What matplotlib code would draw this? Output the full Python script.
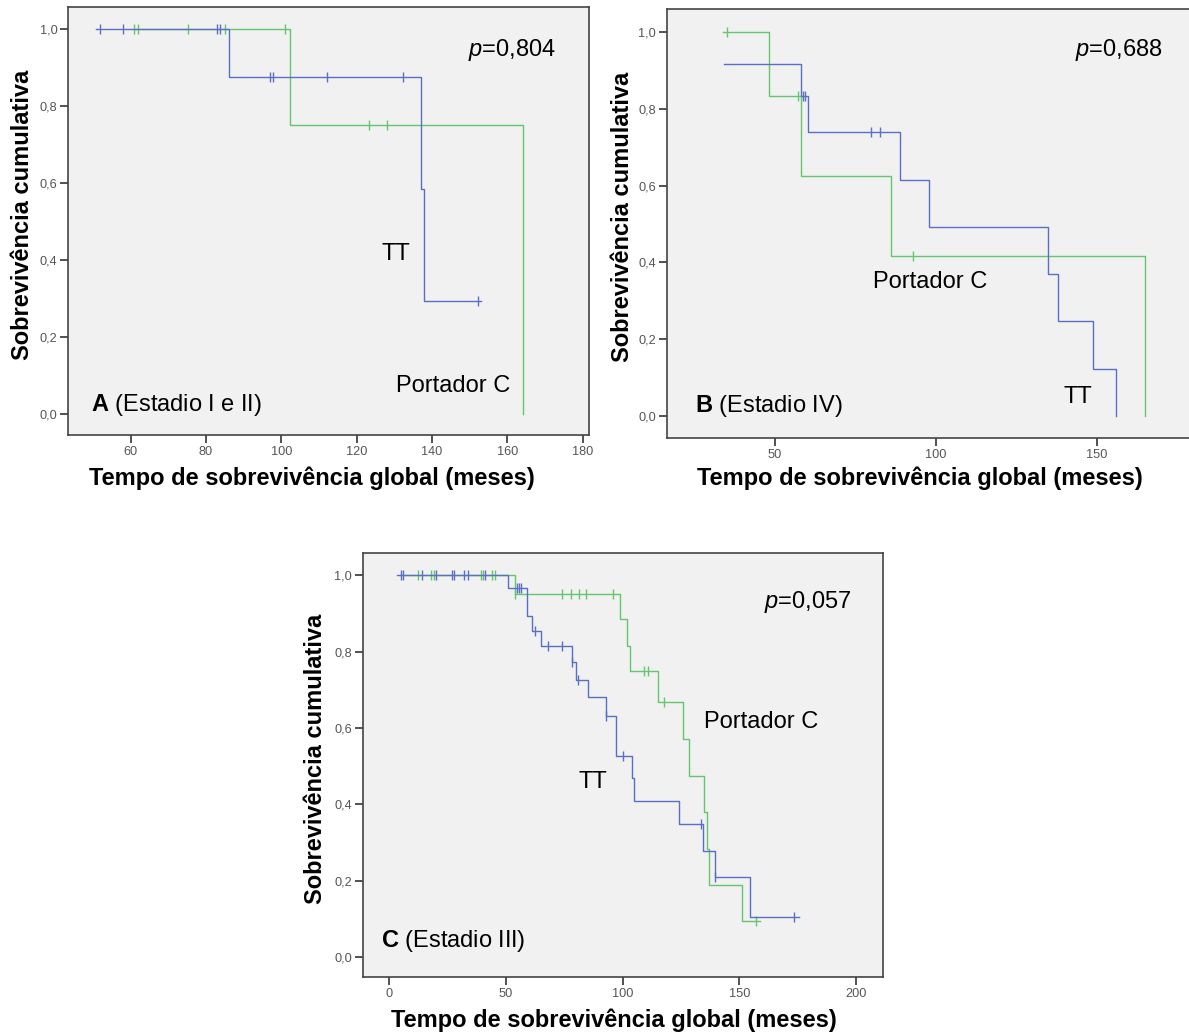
import numpy as np
import matplotlib
matplotlib.use('Agg')
import matplotlib.pyplot as plt
from matplotlib.ticker import FuncFormatter

# fontes (Arial -> Liberation Sans)
plt.rcParams['font.family'] = ['Liberation Sans', 'DejaVu Sans']
plt.rcParams['mathtext.fontset'] = 'custom'
plt.rcParams['mathtext.rm'] = 'Liberation Sans'
plt.rcParams['mathtext.it'] = 'Liberation Sans:italic'
plt.rcParams['mathtext.bf'] = 'Liberation Sans:bold'

# ---- dados: painel A (Estadio I e II) ----
a_tt_t = [50.9, 86.1, 137.0, 138.0, 153.0]
a_tt_s = [1.0, 0.875, 0.583, 0.292, 0.292]
a_tt_ct = [52.0, 58.1, 82.9, 83.8, 97.0, 97.9, 112.2, 132.2, 152.1]
a_tt_cs = [1.0, 1.0, 1.0, 1.0, 0.875, 0.875, 0.875, 0.875, 0.292]
a_c_t = [61.0, 102.3, 164.1]
a_c_s = [1.0, 0.75, 0.0]
a_c_ct = [61.0, 62.0, 75.2, 85.1, 101.1, 123.2, 128.1]
a_c_cs = [1.0, 1.0, 1.0, 1.0, 1.0, 0.75, 0.75]

# ---- painel B (Estadio IV) ----
b_tt_t = [34.1, 58.1, 60.2, 88.9, 98.0, 134.9, 137.8, 148.7, 155.9]
b_tt_s = [0.917, 0.833, 0.739, 0.616, 0.493, 0.370, 0.247, 0.123, 0.0]
b_tt_ct = [58.7, 59.4, 79.9, 82.7]
b_tt_cs = [0.833, 0.833, 0.739, 0.739]
b_c_t = [33.8, 48.1, 58.1, 86.1, 164.9]
b_c_s = [1.0, 0.833, 0.625, 0.417, 0.0]
b_c_ct = [35.1, 57.3, 92.9]
b_c_cs = [1.0, 0.833, 0.417]

# ---- painel C (Estadio III) ----
c_tt_t = [3.1, 50.9, 59.2, 61.2, 65.2, 78.2, 79.8, 85.0, 92.8, 97.0, 103.8,
          105.0, 124.3, 134.2, 139.4, 154.4, 175.4]
c_tt_s = [1.0, 0.967, 0.892, 0.854, 0.816, 0.774, 0.727, 0.680, 0.631, 0.526,
          0.468, 0.410, 0.349, 0.279, 0.209, 0.105, 0.105]
c_tt_ct = [5.0, 5.9, 14.1, 19.8, 26.9, 27.9, 31.8, 33.8, 40.8, 54.8, 55.6, 56.4,
           62.6, 67.9, 74.0, 78.4, 80.9, 92.8, 100.2, 133.6, 139.4, 173.4]
c_tt_cs = [1.0] * 9 + [0.967] * 3 + [0.854, 0.816, 0.816, 0.774, 0.727, 0.631,
                                     0.526, 0.349, 0.209, 0.105]
c_c_t = [5.0, 53.7, 98.9, 102.0, 103.0, 114.9, 125.8, 128.2, 135.0, 136.2,
         136.9, 151.0, 158.9]
c_c_s = [1.0, 0.952, 0.885, 0.816, 0.748, 0.667, 0.571, 0.475, 0.380, 0.284,
         0.190, 0.095, 0.095]
c_c_ct = [12.2, 17.8, 19.0, 39.2, 40.2, 44.0, 45.2, 53.9, 74.0, 78.0, 81.1,
          84.1, 96.0, 109.3, 111.0, 117.8, 156.9]
c_c_cs = [1.0] * 7 + [0.952] * 6 + [0.748, 0.748, 0.667, 0.095]

y_ticks = [0.0, 0.2, 0.4, 0.6, 0.8, 1.0]
a_xticks = [60, 80, 100, 120, 140, 160, 180]
b_xticks = [50, 100, 150]
c_xticks = [0, 50, 100, 150, 200]

azul = '#5b6fc4'
verde = '#66c66f'
fundo = '#f0f1f0'
xlab = 'Tempo de sobrevivência global (meses)'
ylab = 'Sobrevivência cumulativa'

fig = plt.figure(figsize=(11.89, 10.34), dpi=100)
axA = fig.add_axes([0.0575, 0.5793, 0.4376, 0.4139])
axB = fig.add_axes([0.561, 0.5764, 0.439, 0.4149])
axC = fig.add_axes([0.3056, 0.0551, 0.4367, 0.4100])


def km(ax, t, s, ct, cs, cor):
    ax.step(t, s, where='post', color=cor, lw=1.0)
    ax.plot(ct, cs, ls='none', marker='|', ms=7, mew=1.0, color=cor)


def estilo(ax, xt, xlim, ylim, lx, ly):
    ax.set_facecolor(fundo)
    ax.set_xlim(*xlim)
    ax.set_ylim(*ylim)
    ax.set_xticks(xt)
    ax.set_yticks(y_ticks)
    fmt = FuncFormatter(lambda v, p: ('%.1f' % v).replace('.', ','))
    ax.yaxis.set_major_formatter(fmt)
    ax.tick_params(direction='out', length=6, width=1.2, color='#333333',
                   labelcolor='#555555', labelsize=9.2, pad=2)
    for sp in ax.spines.values():
        sp.set_color('#444444')
        sp.set_linewidth(1.2)
    ax.set_xlabel(xlab, fontsize=17, fontweight='bold', va='center')
    ax.set_ylabel(ylab, fontsize=17, fontweight='bold', va='center')
    ax.xaxis.set_label_coords(*lx)
    ax.yaxis.set_label_coords(*ly)


# painel A
km(axA, a_c_t, a_c_s, a_c_ct, a_c_cs, verde)
km(axA, a_tt_t, a_tt_s, a_tt_ct, a_tt_cs, azul)
estilo(axA, a_xticks, (43.5, 181.6), (-0.055, 1.057), (0.468, -0.100), (-0.089, 0.514))
axA.text(172.8, 0.945, r'$\mathit{p}$=0,804', fontsize=17, ha='right', va='center')
axA.text(130.5, 0.416, 'TT', fontsize=17, ha='center', va='center')
axA.text(160.8, 0.073, 'Portador C', fontsize=17, ha='right', va='center')
axA.text(49.5, 0.023, r'$\mathbf{A}$ (Estadio I e II)', fontsize=17, ha='left', va='center')

# painel B
km(axB, b_c_t, b_c_s, b_c_ct, b_c_cs, verde)
km(axB, b_tt_t, b_tt_s, b_tt_ct, b_tt_cs, azul)
estilo(axB, b_xticks, (16.5, 178.6), (-0.057, 1.06), (0.484, -0.093), (-0.086, 0.515))
axB.spines['right'].set_visible(False)
axB.text(170.5, 0.953, r'$\mathit{p}$=0,688', fontsize=17, ha='right', va='center')
axB.text(98.1, 0.349, 'Portador C', fontsize=17, ha='center', va='center')
axB.text(144.1, 0.049, 'TT', fontsize=17, ha='center', va='center')
axB.text(25.2, 0.026, r'$\mathbf{B}$ (Estadio IV)', fontsize=17, ha='left', va='center')

# painel C
km(axC, c_c_t, c_c_s, c_c_ct, c_c_cs, verde)
km(axC, c_tt_t, c_tt_s, c_tt_ct, c_tt_cs, azul)
estilo(axC, c_xticks, (-11.1, 211.3), (-0.052, 1.058), (0.483, -0.101), (-0.093, 0.514))
axC.text(197.9, 0.929, r'$\mathit{p}$=0,057', fontsize=17, ha='right', va='center')
axC.text(135.0, 0.615, 'Portador C', fontsize=17, ha='left', va='center')
axC.text(87.1, 0.458, 'TT', fontsize=17, ha='center', va='center')
axC.text(-3.6, 0.042, r'$\mathbf{C}$ (Estadio III)', fontsize=17, ha='left', va='center')

fig.savefig('out.png', dpi=100, facecolor='white')
